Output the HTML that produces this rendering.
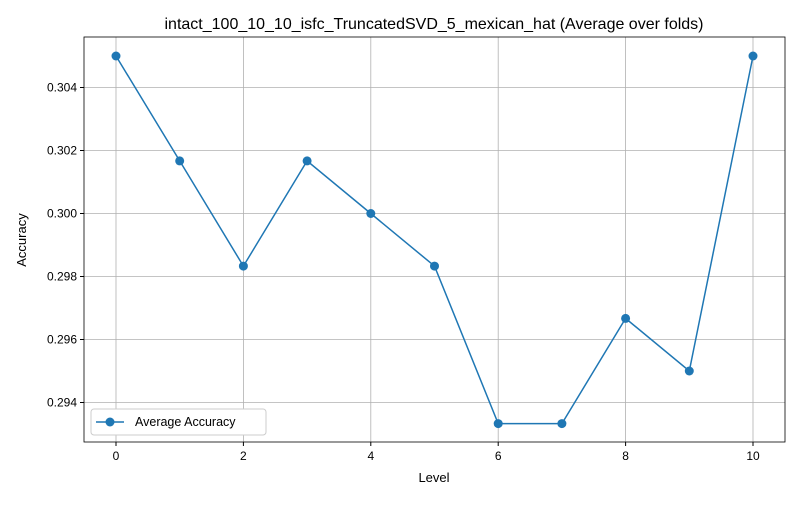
<!DOCTYPE html>
<html><head><meta charset="utf-8"><style>body{margin:0;background:#fff}svg{font-family:"Liberation Sans","DejaVu Sans",sans-serif}</style></head>
<body>
<svg id="c" width="800" height="500"></svg>
<script>
const levels=[0,1,2,3,4,5,6,7,8,9,10];
const accuracy=[0.305,0.30167,0.29833,0.30167,0.300,0.29833,0.29333,0.29333,0.29667,0.295,0.305];
const xTicks=[0,2,4,6,8,10];
const yTicks=[0.294,0.296,0.298,0.300,0.302,0.304];
const L=84,R=785,T=37,B=442;
const x=v=>116+(v-0)*(753-116)/10;
const y=v=>87.5+(0.304-v)*31500;
const s=document.getElementById('c');const NS='http://www.w3.org/2000/svg';
function mk(t,a,p){const e=document.createElementNS(NS,t);for(const k in a)e.setAttribute(k,a[k]);(p||s).appendChild(e);return e;}
let e;
xTicks.forEach(v=>{e=mk('line',{x1:x(v),x2:x(v),y1:T,y2:B,stroke:'#b0b0b0','stroke-width':0.8});

mk('line',{x1:x(v),x2:x(v),y1:B,y2:B+4,stroke:'#000'});
e=mk('text',{x:x(v),y:B+18,'text-anchor':'middle','font-size':12});e.textContent=v;
});
yTicks.forEach(v=>{e=mk('line',{x1:L,x2:R,y1:y(v),y2:y(v),stroke:'#b0b0b0','stroke-width':0.8});

mk('line',{x1:L-4,x2:L,y1:y(v),y2:y(v),stroke:'#000'});
e=mk('text',{x:L-7,y:y(v)+4,'text-anchor':'end','font-size':12});e.textContent=v.toFixed(3);
});
e=mk('rect',{x:L,y:T,width:R-L,height:B-T,fill:'none',stroke:'#000','stroke-width':0.8});

e=mk('polyline',{points:levels.map((l,i)=>x(l)+','+y(accuracy[i])).join(' '),fill:'none',stroke:'#1f77b4','stroke-width':1.5});

levels.forEach((l,i)=>{e=mk('circle',{cx:x(l),cy:y(accuracy[i]),r:4.5,fill:'#1f77b4'});
});
e=mk('text',{x:434,y:29,'text-anchor':'middle','font-size':16});e.textContent='intact_100_10_10_isfc_TruncatedSVD_5_mexican_hat (Average over folds)';

e=mk('text',{x:434,y:482,'text-anchor':'middle','font-size':13});e.textContent='Level';

e=mk('text',{x:26,y:240,'text-anchor':'middle','font-size':13,transform:'rotate(-90 26 240)'});e.textContent='Accuracy';

const g=mk('g',{});
mk('rect',{x:91,y:409,width:175,height:26,fill:'#fff',stroke:'#ccc',rx:3},g);
mk('line',{x1:96,x2:124,y1:422,y2:422,stroke:'#1f77b4','stroke-width':1.5},g);
mk('circle',{cx:110,cy:422,r:4.5,fill:'#1f77b4'},g);
e=mk('text',{x:135,y:426,'font-size':12.5},g);e.textContent='Average Accuracy';

</script>
</body></html>
